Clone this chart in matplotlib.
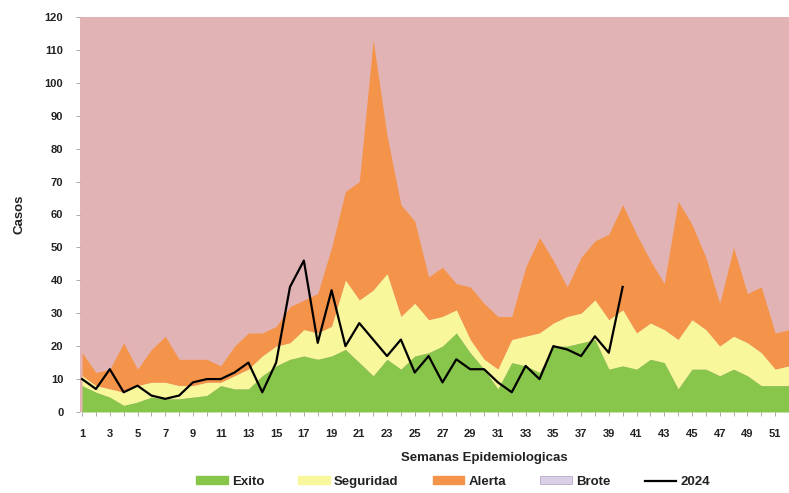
import matplotlib
matplotlib.use("Agg")
import matplotlib.pyplot as plt
from matplotlib.patches import Patch
from matplotlib.lines import Line2D

# Endemic channel: weekly quartile limits and 2024 cases
semanas = list(range(1, 53))
exito = [8, 6, 4.5, 2, 3, 4.5, 4, 4, 4.5, 5, 8, 7, 7, 11, 14, 16, 17, 16, 17, 19,
         15, 11, 16, 13, 17, 18, 20, 24, 18, 13, 7, 15, 14, 12, 20, 20, 21, 22, 13, 14,
         13, 16, 15, 7, 13, 13, 11, 13, 11, 8, 8, 8]
seguridad = [11, 8, 7, 6, 8, 9, 9, 8, 8, 9, 9, 11, 13, 17, 20, 21, 25, 24, 26, 40,
             34, 37, 42, 29, 33, 28, 29, 31, 22, 16, 13, 22, 23, 24, 27, 29, 30, 34, 28, 31,
             24, 27, 25, 22, 28, 25, 20, 23, 21, 18, 13, 14]
alerta = [18, 12, 13, 21, 13, 19, 23, 16, 16, 16, 14, 20, 24, 24, 26, 32, 34, 36, 50, 67,
          70, 113, 84, 63, 58, 41, 44, 39, 38, 33, 29, 29, 44, 53, 46, 38, 47, 52, 54, 63,
          54, 46, 39, 64, 57, 47, 33, 50, 36, 38, 24, 25]
brote_techo = 120
semanas_2024 = list(range(1, 41))
casos_2024 = [10, 7, 13, 6, 8, 5, 4, 5, 9, 10, 10, 12, 15, 6, 15, 38, 46, 21, 37, 20,
              27, 22, 17, 22, 12, 17, 9, 16, 13, 13, 9, 6, 14, 10, 20, 19, 17, 23, 18, 38]
yticks = list(range(0, 121, 10))
xticks = list(range(1, 52, 2))

plt.rcParams["font.family"] = ["Liberation Sans", "DejaVu Sans"]
plt.rcParams["font.weight"] = "bold"

C_GREEN = "#87C54B"
C_YELLOW = "#F8F79C"
C_ORANGE = "#F4944A"
C_PINK = "#E2B3B4"
C_LILAC = "#D9CFE6"
C_TEXT = "#222222"

fig = plt.figure(figsize=(7.89, 4.93), dpi=100)
ax = fig.add_axes([80 / 789, 1 - 412 / 493, 709 / 789, 395 / 493])
ax.set_facecolor(C_PINK)

zeros = [0] * len(semanas)
top = [brote_techo] * len(semanas)
ax.fill_between(semanas, alerta, top, color=C_PINK, lw=0)
ax.fill_between(semanas, seguridad, alerta, color=C_ORANGE, lw=0)
ax.fill_between(semanas, exito, seguridad, color=C_YELLOW, lw=0)
ax.fill_between(semanas, zeros, exito, color=C_GREEN, lw=0)
ax.plot(semanas_2024, casos_2024, color="black", lw=1.6)

ax.set_xlim(0.85, 51.95)
ax.set_ylim(0, 120)
ax.set_yticks(yticks)
ax.set_xticks(xticks)
ax.set_xticks(semanas, minor=True)
for s in ax.spines.values():
    s.set_visible(False)
ax.tick_params(axis="y", length=3, width=0.6, color="#999999", pad=9,
               labelsize=8, labelcolor=C_TEXT)
ax.tick_params(axis="x", which="both", length=3, width=0.6, color="#999999", pad=9,
               labelsize=8, labelcolor=C_TEXT)

ax.set_ylabel("Casos", fontsize=9.5, fontweight="bold", labelpad=14, color=C_TEXT)
fig.text(484 / 789, 1 - 458 / 493, "Semanas Epidemiologicas", ha="center", va="center",
         fontsize=9.5, fontweight="bold", color=C_TEXT)

handles = [
    Patch(facecolor=C_GREEN, edgecolor=C_GREEN),
    Patch(facecolor=C_YELLOW, edgecolor=C_YELLOW),
    Patch(facecolor=C_ORANGE, edgecolor=C_ORANGE),
    Patch(facecolor=C_LILAC, edgecolor="#B8AACB", lw=0.6),
    Line2D([0], [0], color="black", lw=1.6),
]
labels = ["Exito", "Seguridad", "Alerta", "Brote", "2024"]
fig.legend(handles, labels, loc="center", bbox_to_anchor=(453 / 789, 1 - 482 / 493),
           ncol=5, frameon=False, fontsize=9.5, handlelength=2.4, handleheight=0.55,
           handletextpad=0.3, columnspacing=2.6, labelcolor=C_TEXT)

fig.savefig("out.png", dpi=100)
